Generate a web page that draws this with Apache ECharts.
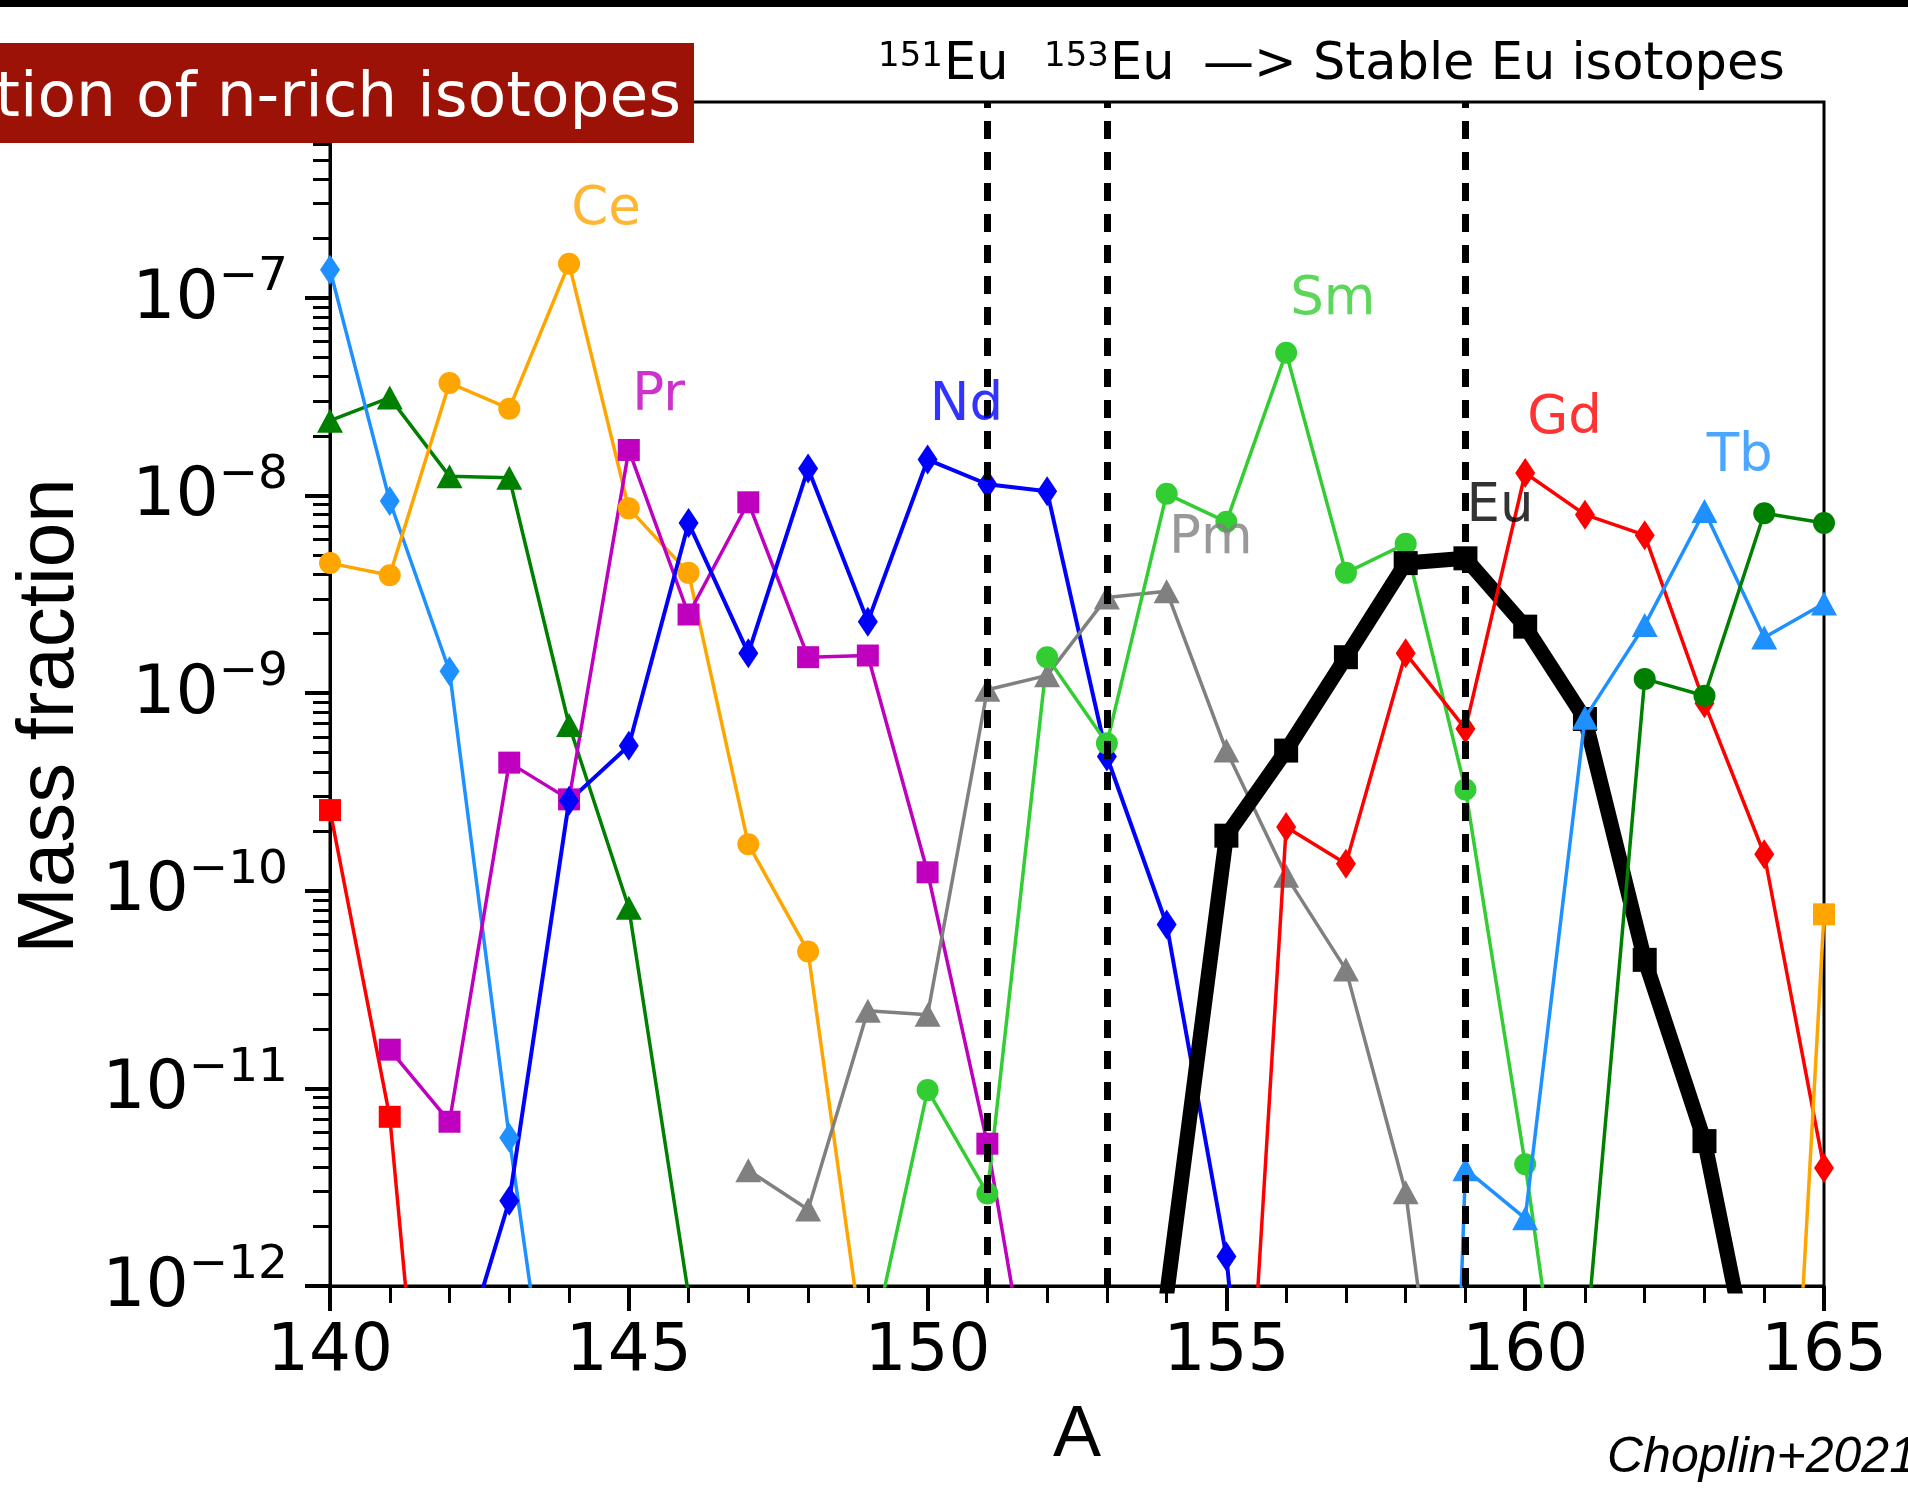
<!DOCTYPE html>
<html>
<head>
<meta charset="utf-8">
<title>Mass fraction of n-rich isotopes</title>
<script src="https://cdn.jsdelivr.net/npm/echarts@6/dist/echarts.min.js"></script>
<style>
html, body { margin: 0; padding: 0; background: #fff; }
#main { width: 1908px; height: 1490px; }
</style>
</head>
<body>
<div id="main"></div>
<script>
// mass numbers A on the x axis
var massNumbers = [140, 141, 142, 143, 144, 145, 146, 147, 148, 149, 150, 151, 152,
                   153, 154, 155, 156, 157, 158, 159, 160, 161, 162, 163, 164, 165];
var N = null;

// mass fractions, one value per mass number (null = not plotted)
var ce = [4.55e-9, 3.95e-9, 3.71e-8, 2.75e-8, 1.49e-7, 8.61e-9, 4.06e-9, 1.72e-10, 4.93e-11, 3.3e-13,
          N, N, N, N, N, N, N, N, N, N, N, N, N, N, N, N];
var pr = [N, 1.57e-11, 6.78e-12, 4.45e-10, 2.9e-10, 1.70e-8, 2.5e-9, 9.24e-9, 1.52e-9, 1.55e-9,
          1.24e-10, 5.25e-12, 9e-14, N, N, N, N, N, N, N, N, N, N, N, N, N];
var nd = [N, N, 2.7e-13, 2.7e-12, 2.85e-10, 5.42e-10, 7.26e-9, 1.59e-9, 1.37e-8, 2.30e-9,
          1.52e-8, 1.14e-8, 1.05e-8, 4.78e-10, 6.75e-11, 1.41e-12, 1e-15, N, N, N, N, N, N, N, N, N];
var pm = [N, N, N, N, N, N, N, 3.85e-12, 2.44e-12, 2.47e-11,
          2.36e-11, 1.04e-9, 1.23e-9, 3.05e-9, 3.28e-9, 5.12e-10, 1.19e-10, 3.99e-11, 2.98e-12, 1.4e-14,
          N, N, N, N, N, N];
var sm = [N, N, N, N, N, N, N, N, N, 4e-13,
          9.8e-12, 2.94e-12, 1.52e-9, 5.57e-10, 1.02e-8, 7.36e-9, 5.28e-8, 4.06e-9, 5.7e-9, 3.25e-10,
          4.13e-12, 2.9e-14, N, N, N, N];
var eu = [N, N, N, N, N, N, N, N, N, N, N, N, N, N,
          9e-13, 1.9e-10, 5.12e-10, 1.52e-9, 4.55e-9, 4.81e-9, 2.17e-9, 7.4e-10, 4.47e-11, 5.41e-12, 1.73e-13, N];
var gd = [N, N, N, N, N, N, N, N, N, N, N, N, N, N, N,
          2.5e-15, 2.1e-10, 1.37e-10, 1.59e-9, 6.6e-10, 1.30e-8, 8.0e-9, 6.3e-9, 8.9e-10, 1.53e-10, 3.95e-12];
var tb = [N, N, N, N, N, N, N, N, N, N, N, N, N, N, N, N, N, N,
          1e-20, 3.9e-12, 2.2e-12, 7.5e-10, 2.21e-9, 8.35e-9, 1.91e-9, 2.84e-9];
// unlabelled neighbours entering at the edges
var leftDiamond = [1.39e-7, 9.38e-9, 1.29e-9, 5.63e-12, 4e-14,
                   N, N, N, N, N, N, N, N, N, N, N, N, N, N, N, N, N, N, N, N, N];
var leftTriangle = [2.39e-8, 3.13e-8, 1.25e-8, 1.23e-8, 6.9e-10, 8.2e-11, 9e-13,
                    N, N, N, N, N, N, N, N, N, N, N, N, N, N, N, N, N, N, N];
var leftSquare = [2.56e-10, 7.18e-12, 4e-15,
                  N, N, N, N, N, N, N, N, N, N, N, N, N, N, N, N, N, N, N, N, N, N, N];
var rightCircle = [N, N, N, N, N, N, N, N, N, N, N, N, N, N, N, N, N, N, N, N, N,
                   4.5e-13, 1.18e-9, 9.7e-10, 8.13e-9, 7.26e-9];
var rightSquare = [N, N, N, N, N, N, N, N, N, N, N, N, N, N, N, N, N, N, N, N, N, N, N, N,
                   3e-16, 7.6e-11];

// stable Eu isotopes (dashed lines)
var stableLines = [151, 153, 159];

// element names written inside the plot, anchored in data coordinates
var labelNames = ['Ce', 'Pr', 'Nd', 'Sm', 'Pm', 'Eu', 'Gd', 'Tb'];
var labelA = [144.62, 145.50, 150.65, 156.78, 154.74, 159.58, 160.66, 163.59];
var labelY = [2.77e-7, 3.17e-8, 2.83e-8, 9.73e-8, 6.04e-9, 8.73e-9, 2.42e-8, 1.56e-8];
var labelColors = ['#FFA500', '#BF00BF', '#0000FF', '#32CD32', '#808080', '#000000', '#FF0000', '#1E90FF'];

function pairs(values) {
    return massNumbers.map(function (a, i) { return [a, values[i]]; });
}

function isoLine(name, values, color, symbol, size, width, z) {
    return {
        name: name,
        type: 'line',
        data: pairs(values),
        symbol: symbol,
        symbolSize: size,
        showAllSymbol: true,
        connectNulls: false,
        clip: true,
        z: z || 2,
        lineStyle: { color: color, width: width },
        itemStyle: { color: color, borderWidth: 0 },
        emphasis: { disabled: true }
    };
}

var chart = echarts.init(document.getElementById('main'));

var option = {
    animation: false,
    backgroundColor: '#fff',
    grid: {
        left: 330, right: 84, top: 102, bottom: 204,
        show: true, borderColor: '#000', borderWidth: 3, backgroundColor: 'transparent'
    },
    xAxis: {
        type: 'value',
        min: 140, max: 165, interval: 5,
        axisLine: { show: true, onZero: false, lineStyle: { color: '#000', width: 3 } },
        axisTick: { show: true, inside: false, length: 25, lineStyle: { color: '#000', width: 4 } },
        minorTick: { show: true, splitNumber: 5, length: 17, lineStyle: { color: '#000', width: 3 } },
        splitLine: { show: false },
        axisLabel: { margin: 34, fontSize: 66, fontFamily: 'DejaVu Sans', color: '#000' },
        name: 'A',
        nameLocation: 'middle',
        nameGap: 114,
        nameTextStyle: { fontSize: 72, fontFamily: 'Liberation Sans', color: '#000' }
    },
    yAxis: {
        type: 'log',
        logBase: 10,
        min: 1e-12, max: 9.8e-7,
        axisLine: { show: true, lineStyle: { color: '#000', width: 3 } },
        axisTick: { show: true, inside: false, length: 25, lineStyle: { color: '#000', width: 4 } },
        minorTick: { show: true, splitNumber: 9, length: 17, lineStyle: { color: '#000', width: 3 } },
        splitLine: { show: false },
        axisLabel: {
            margin: 42,
            color: '#000',
            formatter: function (v) {
                var lg = Math.log10(v);
                var e = Math.round(lg);
                if (Math.abs(lg - e) > 1e-6) return '';
                return '{b|10}{s|\u2212' + (-e) + '}';
            },
            rich: {
                b: { fontSize: 68, fontFamily: 'DejaVu Sans', color: '#000', padding: [4, 0, 0, 0] },
                s: { fontSize: 47, fontFamily: 'DejaVu Sans', color: '#000', padding: [0, 0, 40, 0] }
            }
        }
    },
    graphic: [
        { type: 'rect', shape: { x: 0, y: 0, width: 1908, height: 7 }, style: { fill: '#000' }, z: 100 },
        { type: 'rect', shape: { x: 0, y: 43, width: 694, height: 100 }, style: { fill: '#9d1206' }, z: 100 },
        { type: 'text', x: 681, y: 100, z: 101,
          style: { text: 'tion of n-rich isotopes', fill: '#fff', font: '63px "DejaVu Sans"',
                   textAlign: 'right', textVerticalAlign: 'middle' } },
        { type: 'text', x: 878, y: 57, z: 101,
          style: { text: '151', fill: '#000', font: '34px "DejaVu Sans"', textVerticalAlign: 'middle' } },
        { type: 'text', x: 944, y: 66, z: 101,
          style: { text: 'Eu', fill: '#000', font: '51px "DejaVu Sans"', textVerticalAlign: 'middle' } },
        { type: 'text', x: 1044, y: 57, z: 101,
          style: { text: '153', fill: '#000', font: '34px "DejaVu Sans"', textVerticalAlign: 'middle' } },
        { type: 'text', x: 1110, y: 66, z: 101,
          style: { text: 'Eu', fill: '#000', font: '51px "DejaVu Sans"', textVerticalAlign: 'middle' } },
        { type: 'text', x: 1203, y: 66, z: 101,
          style: { text: '\u2014> Stable Eu isotopes', fill: '#000', font: '51px "DejaVu Sans"', textVerticalAlign: 'middle' } },
        { type: 'text', x: 51, y: 716, rotation: Math.PI / 2, z: 101,
          style: { text: 'Mass fraction', fill: '#000', font: '80px "Liberation Sans"',
                   textAlign: 'center', textVerticalAlign: 'middle' } },
        { type: 'text', x: 1607, y: 1458, z: 101,
          style: { text: 'Choplin+2021', fill: '#000', font: 'italic 50px "Liberation Sans"',
                   textVerticalAlign: 'middle' } }
    ],
    series: [
        isoLine('leftSquare', leftSquare, '#FF0000', 'rect', 22, 3.5),
        isoLine('leftTriangle', leftTriangle, '#008000', 'triangle', [26, 24], 3.5),
        isoLine('leftDiamond', leftDiamond, '#1E90FF', 'diamond', [20, 30], 3.5),
        isoLine('Ce', ce, '#FFA500', 'circle', 22, 3.5),
        isoLine('Pr', pr, '#BF00BF', 'rect', 22, 3.5),
        isoLine('Nd', nd, '#0000FF', 'diamond', [20, 30], 4),
        isoLine('Pm', pm, '#808080', 'triangle', [26, 24], 3.5),
        isoLine('Sm', sm, '#32CD32', 'circle', 22, 3.5),
        isoLine('Eu', eu, '#000000', 'rect', 24, 15, 3),
        isoLine('Gd', gd, '#FF0000', 'diamond', [20, 30], 3.5, 4),
        isoLine('Tb', tb, '#1E90FF', 'triangle', [26, 24], 3.5, 4),
        isoLine('rightCircle', rightCircle, '#008000', 'circle', 22, 3.5, 4),
        isoLine('rightSquare', rightSquare, '#FFA500', 'rect', 22, 3.5, 4),
        {
            name: 'stable',
            type: 'line',
            data: [],
            z: 10,
            markLine: {
                silent: true,
                animation: false,
                symbol: ['none', 'none'],
                label: { show: false },
                lineStyle: { color: '#000', width: 7, type: [18, 13] },
                data: stableLines.map(function (a) { return { xAxis: a }; })
            }
        },
        {
            name: 'labels',
            type: 'scatter',
            symbol: 'circle',
            symbolSize: 0,
            z: 20,
            silent: true,
            data: labelNames.map(function (n, i) {
                return {
                    name: n,
                    value: [labelA[i], labelY[i]],
                    label: { color: labelColors[i] }
                };
            }),
            label: {
                show: true,
                position: 'inside',
                formatter: '{b}',
                fontSize: 53,
                fontFamily: 'DejaVu Sans'
            }
        }
    ]
};
chart.setOption(option);
</script>
</body>
</html>
